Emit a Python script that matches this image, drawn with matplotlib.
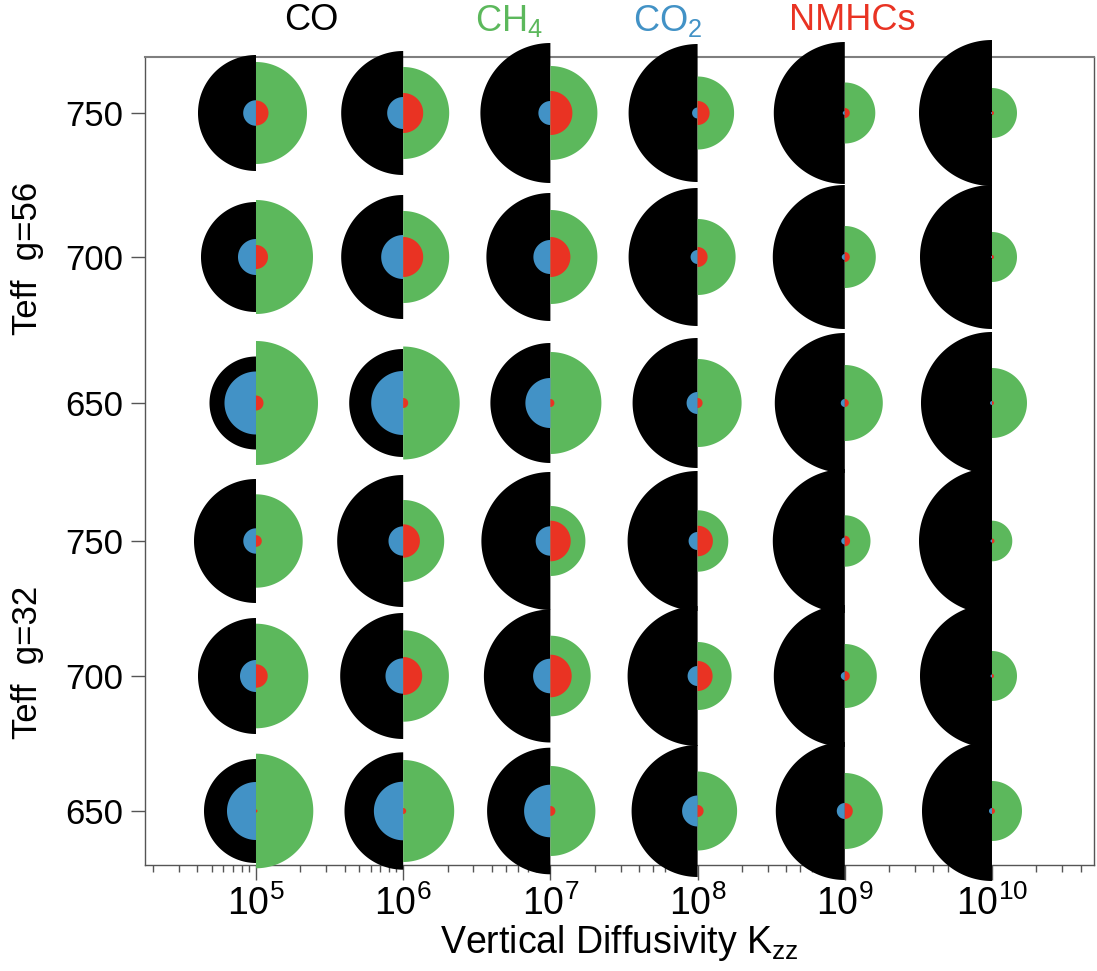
import numpy as np
import matplotlib
matplotlib.use("Agg")
import matplotlib.pyplot as plt
from matplotlib.path import Path
from matplotlib.ticker import FixedLocator, FixedFormatter, LogLocator, NullFormatter

plt.rcParams['font.family'] = ['Liberation Sans', 'DejaVu Sans']
plt.rcParams['mathtext.fontset'] = 'custom'
plt.rcParams['mathtext.rm'] = 'Liberation Sans'
plt.rcParams['mathtext.it'] = 'Liberation Sans:italic'

# ---- data ----
kzz = [1e5, 1e6, 1e7, 1e8, 1e9, 1e10]
row_labels = ['750', '700', '650', '750', '700', '650']
group_labels = ['Teff  g=56', 'Teff  g=32']
species = ['CO', 'CH$_4$', 'CO$_2$', 'NMHCs']

# relative symbol radii (rows top->bottom, columns = Kzz)
co_r = [
    [58, 62, 70, 69, 71, 73],
    [55, 62, 64, 69, 72, 72],
    [46.5, 54, 60, 65, 70, 71],
    [62, 66, 69, 70, 72, 73],
    [58, 63, 66.5, 70, 71, 72],
    [52, 58.7, 63.3, 66, 69, 70],
]
ch4_r = [
    [51, 46, 47, 36.5, 30.5, 25],
    [57, 46, 47, 38, 31, 25],
    [62, 56.5, 51, 44, 38, 35],
    [46.7, 41, 35, 30.7, 25.7, 20.3],
    [52.3, 45.7, 40.3, 34, 32, 25],
    [57.3, 51, 45, 39.5, 38, 30],
]
co2_r = [
    [12.8, 16, 12, 5.5, 2, 1],
    [18, 22, 17, 7, 3, 1],
    [31.5, 32, 25, 11, 4, 2],
    [12.7, 14.7, 14.7, 9, 3.5, 1.5],
    [16, 17.7, 17.3, 10, 4, 1.5],
    [29, 29.3, 26.3, 15.5, 8, 3],
]
nmhc_r = [
    [12.5, 20, 22, 12, 5, 2],
    [12, 20, 20, 10, 5, 2],
    [7.5, 5, 4, 5, 4, 2],
    [5.8, 16.7, 20.3, 15.3, 5.3, 2.5],
    [11.7, 19, 21.3, 15, 5, 2],
    [1.5, 3, 5, 6, 8, 3],
]

# ---- layout ----
row_pos = [56, 200, 346, 484, 619, 754]   # vertical slot of each row (axis units, top=0)
colors = {'CO': '#000000', 'CH4': '#5cb85c', 'CO2': '#4292c6', 'NMHC': '#e93323'}

W, H, DPI = 1097, 971, 100
fig = plt.figure(figsize=(W / DPI, H / DPI), dpi=DPI)
ax = fig.add_axes([145 / W, 1 - 865 / H, (1094 - 145) / W, (865 - 57) / H])
ax.set_xscale('log')
ax.set_xlim(10 ** 4.246, 10 ** 10.693)
ax.set_ylim(808, 0)

theta = np.linspace(np.pi / 2, 3 * np.pi / 2, 120)
left_half = Path(np.vstack([np.column_stack([np.cos(theta), np.sin(theta)]), [[0, 1]]]))
right_half = Path(np.vstack([np.column_stack([-np.cos(theta), np.sin(theta)]), [[0, 1]]]))

px2pt = 72.0 / DPI


def draw(radii, path, color, z):
    xs, ys, ss = [], [], []
    for i, row in enumerate(radii):
        for j, r in enumerate(row):
            xs.append(kzz[j])
            ys.append(row_pos[i])
            ss.append((2 * r * px2pt) ** 2)
    ax.scatter(xs, ys, s=ss, marker=path, c=color, linewidths=0, zorder=z, clip_on=False)


draw(co_r, left_half, colors['CO'], 3)
draw(ch4_r, right_half, colors['CH4'], 3)
draw(co2_r, left_half, colors['CO2'], 4)
draw(nmhc_r, right_half, colors['NMHC'], 4)

# axes styling
for s in ax.spines.values():
    s.set_color('#555555')
    s.set_linewidth(1.0)
    s.set_zorder(2)
ax.spines['top'].set_color('#7f7f7f')
ax.spines['top'].set_linewidth(1.5)

ax.yaxis.set_major_locator(FixedLocator(row_pos))
ax.yaxis.set_major_formatter(FixedFormatter(row_labels))
ax.tick_params(axis='y', which='major', length=10, width=1, color='#555555',
               labelsize=25, pad=6, direction='out')

ax.xaxis.set_major_locator(FixedLocator(kzz))
ax.xaxis.set_major_formatter(FixedFormatter(
    [r'$\mathregular{10^{%d}}$' % int(round(np.log10(k))) for k in kzz]))
ax.xaxis.set_minor_locator(LogLocator(base=10, subs=np.arange(2, 10), numticks=30))
ax.xaxis.set_minor_formatter(NullFormatter())
ax.tick_params(axis='x', which='major', length=11, width=1, color='#555555',
               labelsize=27, pad=4, direction='out')
ax.tick_params(axis='x', which='minor', length=5, width=1, color='#555555', direction='out')

ax.set_xlabel(r'Vertical Diffusivity $\mathregular{K_{zz}}$', fontsize=27, labelpad=0)

# group labels on the left
for lab, yc in zip(group_labels, [258, 662]):
    fig.text(27 / W, 1 - yc / H, lab, rotation=90, ha='center', va='center', fontsize=25)

# species legend across the top
for lab, xc, key in zip(species, [311, 509, 668, 852], ['CO', 'CH4', 'CO2', 'NMHC']):
    fig.text(xc / W, 1 - 21 / H, lab, ha='center', va='center', fontsize=26, color=colors[key])

fig.savefig('out.png', dpi=DPI)
